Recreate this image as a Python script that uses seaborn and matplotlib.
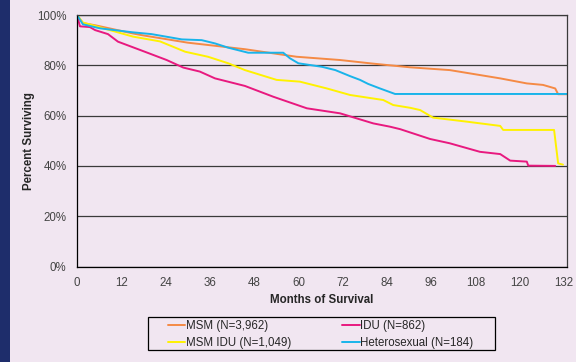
import pandas as pd
import matplotlib
matplotlib.use("Agg")
import matplotlib.pyplot as plt
from matplotlib.patches import Rectangle
import seaborn as sns

# Survival curves (months, percent surviving)
msm_months = [0, 1.6, 5, 15, 17.5, 30, 45.5, 59.5, 71.3, 80, 90.3, 101, 114.7, 121.9, 126.3, 129.6, 130.4, 132.8]
msm_pct = [100, 96.8, 95.9, 92.7, 92, 89, 86.4, 83.4, 82.1, 80.7, 79.2, 78.1, 74.8, 72.8, 72.2, 70.8, 68.5, 68.5]

idu_months = [0, 0.8, 3.5, 4.9, 8.4, 11.1, 17.1, 24.3, 28.8, 33.3, 37.4, 45.5, 53.2, 62.3, 71.3, 80.3,
              84.8, 87.6, 95.7, 101, 109.2, 114.7, 117.4, 121.9, 122.3, 129.6]
idu_pct = [100, 95.5, 95.2, 94, 92.4, 89.4, 86.1, 82.1, 79.1, 77.5, 74.8, 71.8, 67.5, 62.9, 60.9, 56.9,
           55.6, 54.6, 50.7, 49, 45.6, 44.7, 42.1, 41.7, 40.1, 40]

msmidu_months = [0, 1.6, 6.2, 15.2, 22.5, 29.3, 35.5, 41, 45.5, 54.1, 60.4, 67.7, 74, 83, 85.7, 90.3,
                 93, 96.5, 105.6, 114.7, 115.5, 129.3, 130.4, 131.7]
msmidu_pct = [100, 97, 95.1, 91.4, 89.5, 85.4, 83.4, 80.8, 78.1, 74.2, 73.5, 70.8, 68.2, 66.2, 64.2, 63.1,
              62.2, 59.2, 57.6, 55.9, 54.3, 54.3, 41, 40.5]

het_months = [0, 1.6, 6.2, 15.2, 20.2, 28.4, 33.8, 37.4, 41, 46.4, 55.9, 57.7, 60, 66.4, 70, 74,
              76.7, 78.9, 82.1, 86.2, 132.8]
het_pct = [100, 96.3, 94.7, 93.1, 92.4, 90.3, 90, 88.7, 87, 85, 85, 82.8, 80.8, 79.4, 78.1, 75.7,
           74.2, 72.6, 70.8, 68.6, 68.6]

groups = ["MSM (N=3,962)", "IDU (N=862)", "MSM IDU (N=1,049)", "Heterosexual (N=184)"]
colors = ["#f58a45", "#e8197f", "#fff200", "#19b4ea"]

frames = []
for g, m, p in zip(groups, [msm_months, idu_months, msmidu_months, het_months],
                   [msm_pct, idu_pct, msmidu_pct, het_pct]):
    frames.append(pd.DataFrame({"Months": m, "Pct": p, "Group": g}))
df = pd.concat(frames, ignore_index=True)

bg = "#f1e6f1"
fs = 8.3
sns.set_style("white")
plt.rcParams["font.family"] = ["Liberation Sans", "DejaVu Sans"]

fig = plt.figure(figsize=(5.76, 3.62), dpi=100, facecolor=bg)
ax = fig.add_axes([77 / 576, 1 - 266.5 / 362, 490 / 576, 251.5 / 362])
ax.set_facecolor(bg)

# navy band on the left edge
fig.patches.append(Rectangle((0, 0), 10 / 576, 1, transform=fig.transFigure,
                             facecolor="#1e2d6b", edgecolor="none", zorder=0))

sns.lineplot(data=df, x="Months", y="Pct", hue="Group", hue_order=groups,
             palette=colors, estimator=None, sort=False, linewidth=1.4, ax=ax, legend=True)

ax.set_xlim(0, 132.8)
ax.set_ylim(0, 100)
ax.set_xticks(range(0, 133, 12))
ax.set_yticks(range(0, 101, 20))
ax.set_yticklabels([f"{v}%" for v in range(0, 101, 20)])
ax.yaxis.grid(True, color="#3a3a3a", linewidth=0.9)
ax.xaxis.grid(False)
ax.set_axisbelow(True)
for s in ax.spines.values():
    s.set_color("#3a3a3a")
    s.set_linewidth(0.9)
ax.spines["left"].set_color("black")
ax.spines["bottom"].set_color("black")
ax.tick_params(axis="both", direction="out", length=3, width=0.9, colors="#222222",
               labelsize=fs, labelcolor="#444444", pad=4.5)

ax.set_xlabel("Months of Survival", fontsize=fs, fontweight="bold", labelpad=4)
ax.set_ylabel("Percent Surviving", fontsize=fs, fontweight="bold", labelpad=1.5)

handles, labels = ax.get_legend_handles_labels()
ax.get_legend().remove()
order = [0, 2, 1, 3]
fig.legend([handles[i] for i in order], [labels[i] for i in order],
           loc="center left", bbox_to_anchor=(168 / 576, 1 - 334.5 / 362), ncol=2,
           frameon=False, fontsize=fs, handlelength=1.5, handletextpad=0.05,
           columnspacing=4.45, labelspacing=0.45, borderpad=0, borderaxespad=0)
# legend frame
fig.patches.append(Rectangle((148 / 576, 1 - 350 / 362), 347 / 576, 33 / 362,
                             transform=fig.transFigure, facecolor="none",
                             edgecolor="black", linewidth=0.9, zorder=5))

fig.savefig("out.png", dpi=100, facecolor=bg)
